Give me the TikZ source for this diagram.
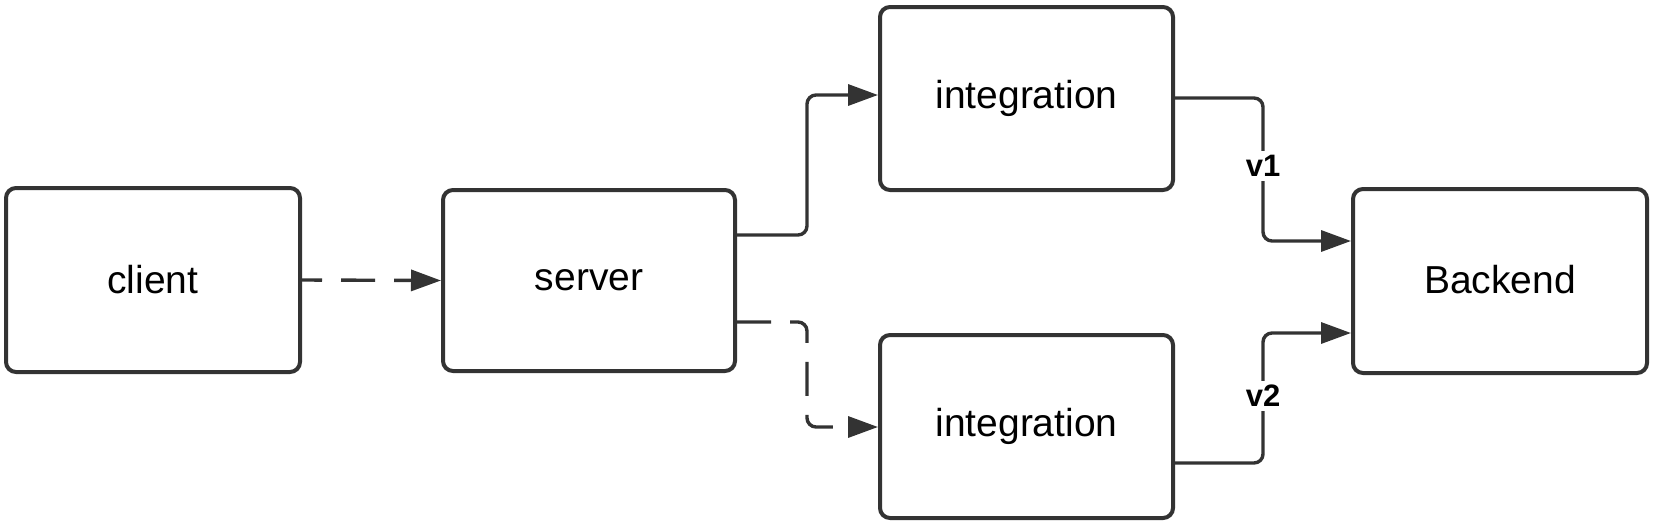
\documentclass[tikz,border=0pt]{standalone}
\usepackage{fontspec}
\setmainfont{Liberation Sans}
\usetikzlibrary{arrows.meta}
\definecolor{ink}{RGB}{51,51,51}
\begin{document}
\begin{tikzpicture}[x=1pt,y=-1pt,
  box/.style={draw=ink,line width=4pt,rounded corners=10pt,fill=white,
    inner sep=0pt,font=\fontsize{39}{47}\selectfont,text=black},
  conn/.style={draw=ink,line width=3.4pt,rounded corners=9pt,
    -{Triangle[length=30pt,width=21pt]}},
  dsh/.style={dash pattern=on 34pt off 19pt},
  lbl/.style={fill=white,inner sep=4pt,font=\fontsize{31}{37}\selectfont\bfseries,text=black}]
\useasboundingbox (0,0) rectangle (1653,525);
\node[box,minimum width=294pt,minimum height=184pt] (client) at (153,280) {client};
\node[box,minimum width=292pt,minimum height=181pt] (server) at (589,280.5) {server};
\node[box,minimum width=293pt,minimum height=183pt] (int1) at (1026.5,98.5) {\raisebox{4pt}{integration}};
\node[box,minimum width=293pt,minimum height=183pt] (int2) at (1026.5,426.5) {integration};
\node[box,minimum width=294pt,minimum height=184pt] (backend) at (1500,281) {\raisebox{4pt}{Backend}};
\draw[conn,dsh,dash phase=14pt] (client.east) -- (server.west);
\draw[conn] (server.east |- 0,235) -| (807,95) -- (int1.west |- 0,95);
\draw[conn,dsh] (server.east |- 0,322) -| (807,427) -- (int2.west |- 0,427);
\draw[conn] (int1.east |- 0,98) -| (1263,241) -- (backend.west |- 0,241);
\draw[conn] (int2.east |- 0,463) -| (1263,333) -- (backend.west |- 0,333);
\node[lbl] (v1) at (1263,166) {v1};
\node[lbl] (v2) at (1263,396) {v2};
\end{tikzpicture}
\end{document}
